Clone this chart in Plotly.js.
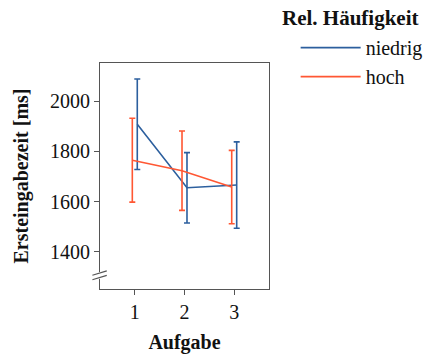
<!DOCTYPE html>
<html><head><meta charset="utf-8">
<script src="https://cdn.plot.ly/plotly-3.0.1.min.js"></script>
<style>body{margin:0;background:#fff}#c{width:426px;height:360px}</style>
</head><body><div id="c"></div>
<script>
const tasks = [1, 2, 3];
const seriesNames = ["niedrig", "hoch"];
const legendTitle = "Rel. Häufigkeit";
const niedrigMean = [1908, 1655, 1666];
const niedrigErr = [180, 140, 172];
const hochMean = [1765, 1723, 1658];
const hochErr = [167, 158, 146];
const yTicks = [1400, 1600, 1800, 2000];
const colors = ["#2c5f9e", "#ff5733"];
const dodge = 0.05;

const font = "Liberation Serif, Times New Roman, serif";
function trace(name, means, errs, off, color) {
  return {
    type: "scatter", mode: "lines", name: name,
    x: tasks.map(t => t + off), y: means,
    line: {color: color, width: 1.6},
    error_y: {type: "data", array: errs, visible: true, color: color, thickness: 1.6, width: 3}
  };
}
const data = [
  trace(seriesNames[0], niedrigMean, niedrigErr, dodge, colors[0]),
  trace(seriesNames[1], hochMean, hochErr, -dodge, colors[1])
];
const axisCol = "#555";
const layout = {
  width: 426, height: 360,
  margin: {l: 100, r: 157, t: 63, b: 71},
  paper_bgcolor: "#fff", plot_bgcolor: "#fff",
  font: {family: font, size: 20, color: "#111"},
  showlegend: true,
  legend: {
    xref: "container", yref: "container",
    x: 0.694, xanchor: "left", y: 0.922, yanchor: "top",
    font: {family: font, size: 20, color: "#111"},
    tracegroupgap: 0, itemwidth: 60,
    bgcolor: "rgba(0,0,0,0)"
  },
  annotations: [
    {text: "<b>" + legendTitle + "</b>", xref: "paper", yref: "paper",
     x: (280 - 100) / 169, y: 1 + (63 - 18) / 226, xanchor: "left", yanchor: "middle",
     showarrow: false, font: {family: font, size: 21, color: "#111"}}
  ],
  xaxis: {
    range: [0.3, 3.7], tickvals: tasks, ticktext: tasks.map(String),
    ticks: "outside", ticklen: 5, tickcolor: axisCol, showgrid: false, zeroline: false,
    showline: true, mirror: true, linecolor: axisCol, linewidth: 1,
    tickfont: {family: font, size: 20, color: "#111"},
    title: {text: "<b>Aufgabe</b>", standoff: 12, font: {family: font, size: 20, color: "#111"}}
  },
  yaxis: {
    range: [1252, 2152], tickvals: yTicks, ticktext: yTicks.map(String),
    ticks: "outside", ticklen: 5, tickcolor: axisCol, showgrid: false, zeroline: false,
    showline: true, mirror: true, linecolor: axisCol, linewidth: 1,
    tickfont: {family: font, size: 20, color: "#111"},
    title: {text: "<b>Ersteingabezeit [ms]</b>", standoff: 16, font: {family: font, size: 20, color: "#111"}}
  },
  shapes: [
    {type: "rect", xref: "paper", yref: "paper", x0: -0.012, x1: 0.012, y0: 0.045, y1: 0.075,
     fillcolor: "#fff", line: {width: 0}, layer: "above"},
    {type: "line", xref: "paper", yref: "paper", x0: -0.045, x1: 0.04, y0: 0.061, y1: 0.080,
     line: {color: axisCol, width: 1.2}, layer: "above"},
    {type: "line", xref: "paper", yref: "paper", x0: -0.045, x1: 0.04, y0: 0.041, y1: 0.060,
     line: {color: axisCol, width: 1.2}, layer: "above"}
  ]
};
Plotly.newPlot("c", data, layout, {displayModeBar: false, staticPlot: true});
</script></body></html>
